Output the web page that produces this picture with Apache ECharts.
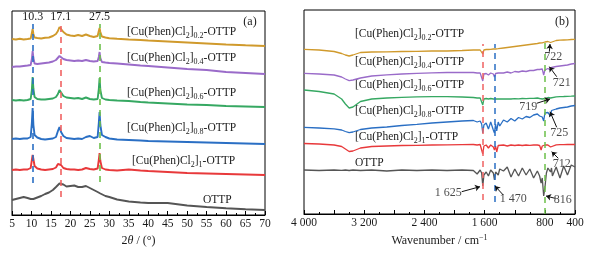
<!DOCTYPE html>
<html>
<head>
<meta charset="utf-8">
<script src="https://cdn.jsdelivr.net/npm/echarts@6/dist/echarts.min.js"></script>
<style>
  html, body { margin: 0; padding: 0; background: #fff; }
  #chart { width: 614px; height: 255px; }
</style>
</head>
<body>
<div id="chart"></div>
<script>
// ---- XRD (panel a): 2theta grid and stacked patterns (arbitrary units)
const tXrd = [5, 6, 7, 8, 9, 9.8, 10.1, 10.3, 10.5, 10.8, 11.5, 12.5, 13.5, 14.5, 15.5, 16.3, 16.8, 17.2, 17.6, 18.2,
  19, 20, 21, 22, 23, 24, 25, 26, 27, 27.3, 27.5, 27.7, 28.1, 29, 30, 32, 35, 38, 40, 45, 50, 55, 60, 65, 70];
const xrdGold = [176, 175.5, 176.2, 175.5, 176, 176.5, 182, 186, 181, 177.5, 177, 176.5, 177.2, 177.5, 179, 181, 184, 188, 186, 183,
  180.5, 179.5, 179, 180, 179, 180.5, 179, 178, 179, 184, 187, 183, 178.5, 177.5, 176.7, 176.2, 175.5, 175, 174.5, 173.5, 172.5, 171.5, 170.5, 169.7, 169];
const xrdPurple = [148, 148.5, 148.5, 149, 149.5, 150, 156, 164, 157, 151.5, 151, 151.5, 152, 152.5, 153.5, 155, 157, 159, 158, 156,
  155, 154.5, 154, 154.5, 154, 155, 154, 153.5, 154, 158, 163, 157, 153, 152.5, 152, 151.5, 150.5, 149.5, 149, 147.5, 146, 145, 143, 142, 141];
const xrdGreen = [115, 114.5, 115, 114.5, 115, 116, 125, 138, 126, 118, 116, 115.5, 115.5, 116, 116.5, 118, 121, 125, 123, 119,
  117.5, 117, 116.5, 117, 116, 117.5, 116, 115.5, 116, 126, 137, 125, 117, 115.5, 115, 114.5, 114, 113, 112.5, 111.5, 110.5, 110, 109, 108.5, 108];
const xrdBlue = [76, 76.5, 76, 76.5, 76.5, 78, 92, 107, 90, 80, 77.5, 76, 75.5, 76, 76.5, 78, 84, 88, 83, 79,
  77, 76.5, 76, 76.5, 76, 78, 79, 77, 78, 92, 103, 90, 80, 78, 76.5, 75.5, 75, 74.5, 74, 73.5, 73, 72.5, 72, 71.5, 71];
const xrdRed = [45, 45.5, 45, 45.5, 45.5, 47, 55, 60, 56, 49, 46.5, 45.5, 45, 45.5, 46, 47.5, 51, 53, 50, 47,
  46, 45.5, 45.5, 45, 45.5, 47, 46, 45.5, 46.5, 55, 62, 54, 47, 45.5, 45, 44.5, 45.5, 44.5, 44, 43, 42, 41.5, 41, 40.5, 40];
const xrdGray = [15, 16, 17, 18, 17, 16, 16, 16, 16, 16.5, 17.5, 19, 21, 22.5, 25, 28, 30, 31.5, 32, 30.5,
  28.5, 29, 29.5, 28, 28, 29, 27, 25, 23, 22.5, 22, 21.5, 20.5, 19, 18, 15.5, 13.5, 12.5, 12, 12, 9.5, 8, 6.7, 5.7, 5];

const xrdPeakText = ['10.3', '17.1', '27.5'];
const xrdPeakPos = [10.3, 17.5, 27.5];
const xrdPeakTop = [191, 191, 191];
const xrdPeakBottom = [32, 18, 33];

// ---- FTIR (panel b): wavenumber grid and stacked spectra
const wnIr = [4000, 3800, 3600, 3500, 3450, 3400, 3350, 3250, 3100, 2900, 2700, 2500, 2300, 2100, 1900, 1750, 1700, 1660, 1640, 1625,
  1610, 1580, 1550, 1520, 1500, 1485, 1470, 1455, 1440, 1420, 1400, 1350, 1300, 1250, 1200, 1150, 1100, 1050, 1000, 950,
  900, 870, 850, 835, 816, 800, 780, 760, 740, 725, 712, 700, 650, 600, 550, 500, 450, 400];
const irGold = [164.7, 164, 162.5, 160.5, 159, 158, 159, 161.5, 162, 162.2, 162.5, 162.7, 163, 163, 163.5, 164, 164, 164, 163.5, 160,
  164, 164.5, 164.5, 164.7, 164.7, 165, 163, 165, 165.2, 165.3, 165.5, 166, 166.5, 167, 167.5, 168, 168.5, 169, 169.5, 170,
  170.5, 171, 171, 171.2, 170, 172, 172.2, 172.5, 172.7, 171.5, 173, 173, 173.5, 173.8, 174, 174.2, 174.5, 174.7];
const irPurple = [140.7, 140, 139, 137, 135, 133.3, 134, 136, 138, 139.2, 140, 140.7, 141.2, 141.5, 141.5, 141.5, 141, 141, 140, 133,
  140, 140.5, 139, 141, 140.5, 140, 137, 140.5, 139, 141, 141.5, 141, 142, 141, 142.5, 142, 143, 142.5, 143.5, 143.5,
  144.5, 144.5, 143.5, 145, 139, 144, 145, 145.5, 146, 144, 146.5, 147, 147.5, 148, 148.5, 149, 150, 150.5];
const irGreen = [124, 122.5, 120, 115, 110, 106, 107, 112.5, 115, 116, 116.7, 117.2, 117.3, 117.3, 117, 116.5, 116, 116, 115, 109,
  115, 115.5, 115, 115.5, 115, 115, 113.5, 115, 114.5, 115, 115, 115, 115.2, 115, 115.3, 115.2, 115.5, 115.4, 115.7, 115.7,
  116, 115.5, 114, 115, 114, 115.5, 116, 116.5, 116.7, 116, 117, 117, 117.2, 117.4, 117.5, 117.7, 117.8, 118];
const irBlue = [86.7, 86, 85.2, 84, 82.5, 81.3, 82, 84.5, 86, 87, 88.5, 89.7, 91, 92, 93, 93.5, 92, 93, 90, 81,
  89, 91, 85, 92, 90, 84, 81, 90, 83, 92, 88, 94, 92, 95.5, 93, 96.5, 95, 97.5, 96.5, 99,
  100, 98, 100, 97, 93, 101, 102, 101.5, 102.5, 98, 103.5, 104, 105, 106, 106.5, 107, 108, 108.5];
const irRed = [70.5, 70, 69, 67.5, 65, 62.5, 63, 66, 67.5, 68, 68.5, 68.7, 69, 69.2, 69.4, 69.5, 69, 69.5, 68, 60,
  68, 69, 66, 69, 68, 67, 64, 68, 62, 68.5, 68, 69, 68, 69, 68.5, 69, 68.5, 69, 68.7, 69,
  69, 68.5, 64, 68, 68.5, 69, 69, 69, 69, 67, 65, 69, 69.2, 69.3, 69.4, 69.5, 69.5, 69.5];
const irGray = [44, 43.5, 44, 43.7, 44, 43.5, 44, 43.5, 44, 43, 44, 43.5, 44, 43.5, 44, 43.5, 40, 44, 41, 28,
  39, 42, 38, 44, 43, 41, 34, 42, 43, 39, 45, 43, 47, 37, 45, 38, 46, 39, 45, 36,
  43, 38, 31, 36, 18, 26, 41, 46, 48, 42, 46, 38, 47, 36, 48, 39, 49, 47];

const irBandPos = [1625, 1470, 800];
const irBandTop = [170, 170, 176];
const irBandBottom = [14, 12, 0];

// annotations: text, text point, arrow tail, arrow head (wavenumber, value)
const irNotes = [
  ['722', [688, 157.3], [741, 162.3], [732, 170]],
  ['721', [577, 130.7], [643, 137.3], [741, 147.3]],
  ['719', [1020, 107.3], [909, 110.7], [732, 115]],
  ['725', [609, 80.7], [643, 86.7], [732, 102.3]],
  ['712', [577, 50], [622, 55.7], [710, 62.3]],
  ['1 625', [2083, 21.3], [1905, 22.3], [1662, 27.3]],
  ['1 470', [1220, 14.7], [1353, 19], [1463, 28]],
  ['816', [564, 14], [666, 15.7], [785, 18]]
];

const tags = ['0.2', '0.4', '0.6', '0.8', '1', ''];
const colors = ['#d09a2c', '#9a6bc9', '#36a862', '#2a6fc4', '#e8393b', '#555555'];
const dashColors = ['#2a6fc4', '#f06262', '#6cc04a'];
const tagPosA = [[127, 32], [127, 58], [127, 93], [127, 128], [132, 161], [203, 200]];
const tagPosB = [[355, 34], [355, 62], [355, 85], [355, 111], [355, 137], [355, 163]];

const FONT = 'Liberation Serif';
const TXT = '#1a1a1a';

function pairs(xs, ys) { return xs.map((x, i) => [x, ys[i]]); }
function tagText(tag) {
  return tag ? '{n|[Cu(Phen)Cl}{s|2}{n|]}{s|' + tag + '}{n|-OTTP}' : '{n|OTTP}';
}
const tagRich = {
  n: { fontSize: 11.5, fontFamily: FONT, fill: TXT, lineHeight: 16 },
  s: { fontSize: 8, fontFamily: FONT, fill: TXT, lineHeight: 8, verticalAlign: 'bottom' }
};

const chart = echarts.init(document.getElementById('chart'), null, { renderer: 'canvas' });

const xrdSets = [xrdGold, xrdPurple, xrdGreen, xrdBlue, xrdRed, xrdGray];
const irSets = [irGold, irPurple, irGreen, irBlue, irRed, irGray];

const series = [];
xrdSets.forEach((d, i) => {
  series.push({
    type: 'line', xAxisIndex: 0, yAxisIndex: 0, data: pairs(tXrd, d),
    showSymbol: false, lineStyle: { color: colors[i], width: 1.9 }, z: 3
  });
});
// XRD reference lines
series.push({
  type: 'line', xAxisIndex: 0, yAxisIndex: 0, data: [], silent: true, z: 4,
  markLine: {
    symbol: ['none', 'none'], silent: true, animation: false,
    data: xrdPeakPos.map((p, i) => [
      { coord: [p, xrdPeakBottom[i]], lineStyle: { color: dashColors[i], width: 1.6, type: [6, 5] } },
      { coord: [p, xrdPeakTop[i]] }
    ]),
    label: {
      show: true, position: 'end', distance: 1, color: TXT, fontFamily: FONT, fontSize: 12,
      formatter: p => xrdPeakText[xrdPeakPos.indexOf(p.data.coord ? p.data.coord[0] : p.value)] || ''
    }
  }
});
irSets.forEach((d, i) => {
  series.push({
    type: 'line', xAxisIndex: 1, yAxisIndex: 1, data: pairs(wnIr, d),
    showSymbol: false, lineStyle: { color: colors[i], width: 1.3 }, z: 3
  });
});
// FTIR reference lines
series.push({
  type: 'line', xAxisIndex: 1, yAxisIndex: 1, data: [], silent: true, z: 4,
  markLine: {
    symbol: ['none', 'none'], silent: true, animation: false, label: { show: false },
    data: irBandPos.map((p, i) => [
      { coord: [p, irBandBottom[i]], lineStyle: { color: [dashColors[1], dashColors[0], dashColors[2]][i], width: 1.5, type: [6, 5] } },
      { coord: [p, irBandTop[i]] }
    ])
  }
});
// FTIR arrows
series.push({
  type: 'line', xAxisIndex: 1, yAxisIndex: 1, data: [], silent: true, z: 5,
  markLine: {
    symbol: ['none', 'arrow'], symbolSize: 5, silent: true, animation: false, label: { show: false },
    lineStyle: { color: '#111', width: 1, type: 'solid' },
    data: irNotes.map(n => [{ coord: n[2] }, { coord: n[3] }])
  }
});
// FTIR annotation text
series.push({
  type: 'scatter', xAxisIndex: 1, yAxisIndex: 1, silent: true, z: 6,
  symbolSize: 0.1, itemStyle: { color: 'rgba(0,0,0,0)' },
  data: irNotes.map(n => [n[1][0], n[1][1], n[0]]),
  label: {
    show: true, position: 'inside', color: TXT, fontFamily: FONT, fontSize: 12,
    formatter: p => p.data[2]
  }
});

const axisCommon = {
  axisLine: { show: true, onZero: false, lineStyle: { color: '#000', width: 1 } },
  axisTick: { show: true, inside: true, length: 4, lineStyle: { color: '#000' } },
  minorTick: { show: true, splitNumber: 2, length: 2, lineStyle: { color: '#000' } },
  splitLine: { show: false },
  minorSplitLine: { show: false },
  nameLocation: 'middle',
  nameGap: 17
};

const graphics = [];
tags.forEach((t, i) => {
  [tagPosA, tagPosB].forEach(pos => {
    graphics.push({
      type: 'text', x: pos[i][0], y: pos[i][1], silent: true,
      style: { text: tagText(t), rich: tagRich, align: 'left', verticalAlign: 'middle' }
    });
  });
});
graphics.push({ type: 'text', x: 250, y: 22, style: { text: '(a)', fontFamily: FONT, fontSize: 12, fill: TXT, align: 'center', verticalAlign: 'middle' } });
graphics.push({ type: 'text', x: 562, y: 22, style: { text: '(b)', fontFamily: FONT, fontSize: 12, fill: TXT, align: 'center', verticalAlign: 'middle' } });

function wnLabel(v) {
  if (v !== 400 && v % 800 !== 0) return '';
  const s = String(v);
  return s.length > 3 ? s.slice(0, s.length - 3) + ' ' + s.slice(-3) : s;
}

chart.setOption({
  animation: false,
  backgroundColor: '#fff',
  grid: [
    { left: 12, top: 11, width: 253, height: 204, show: true, borderColor: '#000', borderWidth: 1 },
    { left: 304, top: 10, width: 271, height: 204, show: true, borderColor: '#000', borderWidth: 1 }
  ],
  xAxis: [
    Object.assign({}, axisCommon, {
      type: 'value', gridIndex: 0, min: 5, max: 70, interval: 5,
      axisLabel: { margin: 3, color: TXT, fontFamily: FONT, fontSize: 11.5, showMinLabel: true, showMaxLabel: true, hideOverlap: false },
      name: '{n|2}{i|θ}{n| / (°)}',
      nameTextStyle: {
        rich: {
          n: { fontFamily: FONT, fontSize: 12, color: TXT },
          i: { fontFamily: FONT, fontSize: 12, color: TXT, fontStyle: 'italic' }
        }
      }
    }),
    Object.assign({}, axisCommon, {
      type: 'value', gridIndex: 1, min: 400, max: 4000, interval: 400, inverse: true,
      axisLabel: { margin: 3, color: TXT, fontFamily: FONT, fontSize: 11.5, showMinLabel: true, showMaxLabel: true, hideOverlap: false, formatter: wnLabel },
      name: '{n|Wavenumber / cm}{p|−1}',
      nameTextStyle: {
        rich: {
          n: { fontFamily: FONT, fontSize: 12, color: TXT, lineHeight: 14 },
          p: { fontFamily: FONT, fontSize: 8, color: TXT, lineHeight: 8, verticalAlign: 'top' }
        }
      }
    })
  ],
  yAxis: [
    { type: 'value', gridIndex: 0, min: 0, max: 204, show: false },
    { type: 'value', gridIndex: 1, min: 0, max: 204, show: false }
  ],
  series: series,
  graphic: graphics
});
</script>
</body>
</html>
